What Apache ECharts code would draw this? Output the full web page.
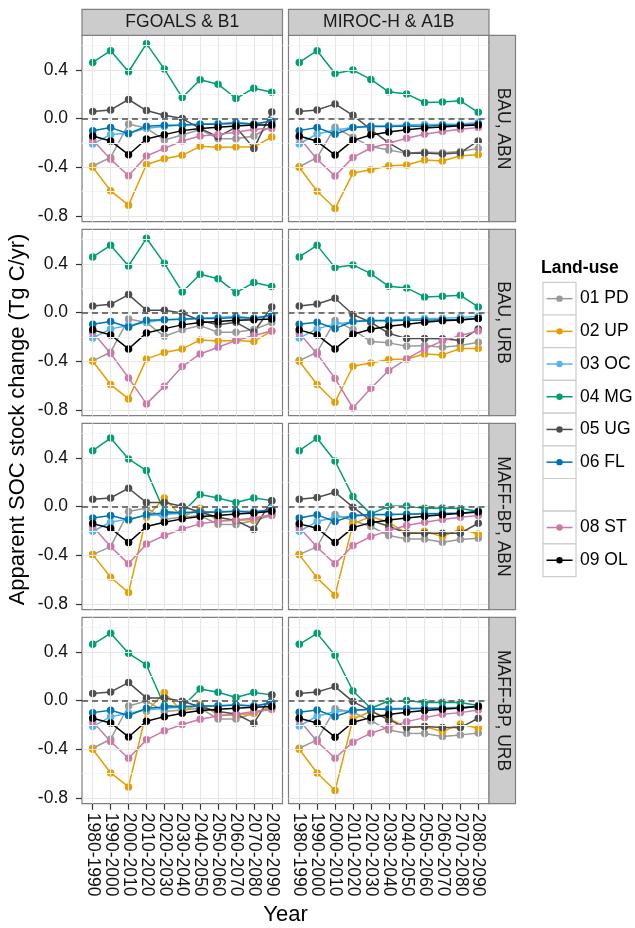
<!DOCTYPE html>
<html>
<head>
<meta charset="utf-8">
<script src="https://cdn.jsdelivr.net/npm/echarts@6/dist/echarts.min.js"></script>
<style>
html,body{margin:0;padding:0;background:#fff;}
#chart{width:635px;height:928px;}
</style>
</head>
<body>
<div id="chart"></div>
<script>
// ---------- DATA ----------
const years = ['1980-1990','1990-2000','2000-2010','2010-2020','2020-2030','2030-2040','2040-2050','2050-2060','2060-2070','2070-2080','2080-2090'];
const modelLabels = ['FGOALS & B1', 'MIROC-H & A1B'];
const scenarioLabels = ['BAU, ABN', 'BAU, URB', 'MAFF-BP, ABN', 'MAFF-BP, URB'];
const landUseNames = ['01 PD','02 UP','03 OC','04 MG','05 UG','06 FL','','08 ST','09 OL'];
const yTicks = [-0.8, -0.4, 0.0, 0.4];
const yMinorTicks = [-0.6, -0.2, 0.2, 0.6];

// Each array: 8 panels in order (row-major): FGOALS/BAU-ABN, MIROC/BAU-ABN, FGOALS/BAU-URB, MIROC/BAU-URB,
// FGOALS/MAFF-ABN, MIROC/MAFF-ABN, FGOALS/MAFF-URB, MIROC/MAFF-URB
const PD = [
  [-0.39,-0.32,-0.044,-0.08,-0.176,-0.135,-0.09,-0.165,-0.165,-0.143,-0.06],
  [-0.396,-0.32,-0.071,-0.154,-0.23,-0.258,-0.286,-0.275,-0.28,-0.27,-0.245],
  [-0.397,-0.326,-0.052,-0.082,-0.195,-0.142,-0.107,-0.162,-0.162,-0.14,-0.082],
  [-0.395,-0.326,-0.066,-0.14,-0.238,-0.249,-0.277,-0.271,-0.285,-0.271,-0.244],
  [-0.395,-0.329,-0.041,-0.011,-0.104,-0.088,-0.074,-0.145,-0.148,-0.115,-0.074],
  [-0.395,-0.329,-0.066,-0.115,-0.164,-0.238,-0.266,-0.266,-0.293,-0.271,-0.26],
  [-0.392,-0.318,-0.044,-0.003,-0.09,-0.077,-0.063,-0.151,-0.151,-0.104,-0.049],
  [-0.392,-0.323,-0.068,-0.096,-0.167,-0.241,-0.268,-0.271,-0.296,-0.282,-0.266]
];
const UP = [
  [-0.40,-0.594,-0.712,-0.377,-0.33,-0.302,-0.228,-0.236,-0.234,-0.234,-0.151],
  [-0.40,-0.597,-0.74,-0.448,-0.42,-0.388,-0.382,-0.341,-0.349,-0.305,-0.297],
  [-0.40,-0.592,-0.71,-0.381,-0.329,-0.299,-0.225,-0.233,-0.23,-0.238,-0.151],
  [-0.40,-0.592,-0.737,-0.441,-0.414,-0.386,-0.381,-0.34,-0.348,-0.296,-0.296],
  [-0.395,-0.581,-0.707,-0.088,0.071,-0.088,-0.014,-0.115,-0.115,-0.107,-0.06],
  [-0.395,-0.586,-0.729,-0.142,-0.082,-0.129,-0.219,-0.203,-0.247,-0.184,-0.225],
  [-0.40,-0.595,-0.71,-0.09,0.066,-0.09,-0.022,-0.118,-0.118,-0.104,-0.063],
  [-0.40,-0.595,-0.74,-0.151,-0.09,-0.145,-0.222,-0.214,-0.255,-0.192,-0.227]
];
const OC = [
  [-0.21,-0.13,-0.12,-0.08,-0.066,-0.052,-0.047,-0.041,-0.03,-0.044,-0.025],
  [-0.209,-0.126,-0.093,-0.074,-0.06,-0.058,-0.052,-0.049,-0.047,-0.044,-0.033],
  [-0.208,-0.134,-0.107,-0.08,-0.058,-0.052,-0.047,-0.041,-0.03,-0.047,-0.03],
  [-0.208,-0.134,-0.093,-0.077,-0.063,-0.06,-0.055,-0.049,-0.047,-0.041,-0.03],
  [-0.203,-0.129,-0.101,-0.074,-0.066,-0.055,-0.047,-0.041,-0.038,-0.038,-0.033],
  [-0.203,-0.123,-0.088,-0.079,-0.068,-0.066,-0.06,-0.058,-0.055,-0.052,-0.047],
  [-0.214,-0.132,-0.104,-0.077,-0.063,-0.055,-0.047,-0.041,-0.036,-0.041,-0.03],
  [-0.208,-0.129,-0.09,-0.079,-0.071,-0.066,-0.063,-0.06,-0.058,-0.055,-0.047]
];
const MG = [
  [0.462,0.558,0.385,0.616,0.407,0.173,0.319,0.283,0.165,0.25,0.217],
  [0.462,0.558,0.371,0.399,0.322,0.22,0.203,0.132,0.137,0.146,0.052],
  [0.458,0.553,0.384,0.611,0.405,0.17,0.315,0.279,0.164,0.247,0.214],
  [0.458,0.553,0.37,0.392,0.321,0.216,0.203,0.129,0.134,0.142,0.047],
  [0.46,0.564,0.392,0.296,-0.04,-0.05,0.099,0.071,0.033,0.071,0.049],
  [0.46,0.562,0.375,0.082,-0.06,0.003,0.005,-0.014,-0.011,-0.016,-0.038],
  [0.463,0.553,0.389,0.293,-0.04,-0.05,0.096,0.068,0.025,0.066,0.047],
  [0.463,0.553,0.373,0.079,-0.063,-0.003,0.0,-0.016,-0.014,-0.016,-0.041]
];
const UG = [
  [0.058,0.071,0.157,0.066,0.027,0.0,-0.08,-0.15,-0.07,-0.245,0.055],
  [0.058,0.071,0.121,0.027,-0.09,-0.2,-0.286,-0.283,-0.291,-0.28,-0.184],
  [0.055,0.068,0.148,0.019,0.019,-0.003,-0.066,-0.1,-0.08,-0.16,0.047],
  [0.055,0.071,0.118,-0.016,-0.08,-0.17,-0.214,-0.214,-0.216,-0.23,-0.134],
  [0.06,0.071,0.151,0.033,0.033,0.003,-0.047,-0.088,-0.115,-0.186,0.049],
  [0.06,0.074,0.118,-0.005,-0.115,-0.162,-0.219,-0.219,-0.219,-0.219,-0.137],
  [0.058,0.071,0.148,0.022,0.022,-0.005,-0.05,-0.09,-0.11,-0.186,0.047],
  [0.058,0.071,0.115,-0.008,-0.085,-0.159,-0.222,-0.214,-0.222,-0.222,-0.145]
];
const FL = [
  [-0.1,-0.074,-0.124,-0.063,-0.055,-0.052,-0.047,-0.047,-0.038,-0.044,-0.02],
  [-0.099,-0.074,-0.129,-0.074,-0.066,-0.066,-0.06,-0.063,-0.055,-0.055,-0.044],
  [-0.096,-0.074,-0.12,-0.063,-0.058,-0.055,-0.049,-0.049,-0.041,-0.047,-0.019],
  [-0.096,-0.079,-0.132,-0.071,-0.068,-0.068,-0.063,-0.063,-0.058,-0.058,-0.047],
  [-0.093,-0.074,-0.11,-0.066,-0.052,-0.049,-0.044,-0.047,-0.038,-0.049,-0.019],
  [-0.093,-0.068,-0.123,-0.074,-0.066,-0.066,-0.063,-0.058,-0.058,-0.055,-0.038],
  [-0.099,-0.079,-0.123,-0.063,-0.052,-0.049,-0.044,-0.044,-0.036,-0.047,-0.016],
  [-0.096,-0.077,-0.132,-0.079,-0.071,-0.071,-0.068,-0.066,-0.063,-0.063,-0.047]
];
const ST = [
  [-0.176,-0.335,-0.47,-0.308,-0.245,-0.184,-0.143,-0.13,-0.113,-0.088,-0.082],
  [-0.157,-0.335,-0.473,-0.319,-0.242,-0.203,-0.162,-0.129,-0.107,-0.088,-0.074],
  [-0.162,-0.337,-0.537,-0.751,-0.605,-0.444,-0.34,-0.285,-0.23,-0.189,-0.151],
  [-0.167,-0.34,-0.542,-0.784,-0.622,-0.477,-0.381,-0.299,-0.233,-0.189,-0.151],
  [-0.164,-0.329,-0.471,-0.307,-0.238,-0.184,-0.142,-0.12,-0.11,-0.093,-0.068],
  [-0.17,-0.334,-0.471,-0.32,-0.247,-0.197,-0.156,-0.129,-0.107,-0.088,-0.074],
  [-0.175,-0.337,-0.474,-0.323,-0.249,-0.197,-0.153,-0.126,-0.112,-0.09,-0.074],
  [-0.159,-0.337,-0.474,-0.342,-0.268,-0.219,-0.173,-0.14,-0.112,-0.099,-0.077]
];
const OL = [
  [-0.143,-0.184,-0.297,-0.168,-0.132,-0.099,-0.082,-0.071,-0.06,-0.052,-0.052],
  [-0.143,-0.187,-0.3,-0.179,-0.135,-0.11,-0.091,-0.077,-0.069,-0.058,-0.052],
  [-0.142,-0.184,-0.299,-0.167,-0.132,-0.101,-0.082,-0.074,-0.063,-0.058,-0.052],
  [-0.142,-0.184,-0.299,-0.178,-0.137,-0.112,-0.096,-0.079,-0.068,-0.06,-0.049],
  [-0.14,-0.178,-0.296,-0.164,-0.129,-0.101,-0.082,-0.074,-0.06,-0.052,-0.038],
  [-0.142,-0.178,-0.296,-0.173,-0.132,-0.11,-0.093,-0.079,-0.068,-0.055,-0.044],
  [-0.145,-0.184,-0.299,-0.17,-0.132,-0.104,-0.082,-0.071,-0.063,-0.055,-0.049],
  [-0.145,-0.184,-0.301,-0.178,-0.14,-0.115,-0.096,-0.082,-0.071,-0.06,-0.049]
];

// ---------- STYLE / LAYOUT ----------
const seriesList = [
  {name:'01 PD', data: PD, color:'#999999'},
  {name:'02 UP', data: UP, color:'#E69F00'},
  {name:'03 OC', data: OC, color:'#56B4E9'},
  {name:'04 MG', data: MG, color:'#009E73'},
  {name:'05 UG', data: UG, color:'#4D4D4D'},
  {name:'06 FL', data: FL, color:'#0072B2'},
  {name:'08 ST', data: ST, color:'#CC79A7'},
  {name:'09 OL', data: OL, color:'#000000'}
];
const legendColors = ['#999999','#E69F00','#56B4E9','#009E73','#4D4D4D','#0072B2',null,'#CC79A7','#000000'];

const FONT = '"Liberation Sans", Arial, Helvetica, sans-serif';
const SMALL = 17.5;
const BIG = 22;
const colLeft = [82, 288.5];
const panelW = 200.5;
const panelH = 186.4;
const rowTop0 = 35.3;
const rowStep = 194;
const Y_MIN = -0.848, Y_MAX = 0.685;
const xIdx = years.map((_, i) => i);

const grids = [], xAxes = [], yAxes = [], series = [], graphics = [];

for (let p = 0; p < 8; p++) {
  const row = Math.floor(p / 2), col = p % 2;
  const top = rowTop0 + row * rowStep;
  grids.push({left: colLeft[col], top: top, width: panelW, height: panelH,
    show: true, borderColor: '#7f7f7f', borderWidth: 1.2, backgroundColor: '#ffffff', containLabel: false});
  const bottomRow = row === 3;
  xAxes.push({
    type: 'value', gridIndex: p, min: -0.6, max: years.length - 1 + 0.6, position: 'bottom',
    axisLine: {show: false, onZero: false},
    splitLine: {show: false},
    axisTick: {show: bottomRow, customValues: xIdx, length: 6, lineStyle: {color: '#333', width: 1.2}},
    axisLabel: {show: bottomRow, customValues: xIdx, rotate: -90, margin: 9,
      formatter: v => years[Math.round(v)] || '', color: '#111', fontSize: SMALL, fontFamily: FONT}
  });
  yAxes.push({
    type: 'value', gridIndex: p, min: Y_MIN, max: Y_MAX, position: 'left',
    axisLine: {show: false, onZero: false},
    splitLine: {show: false},
    axisTick: {show: col === 0, customValues: yTicks, length: 6, lineStyle: {color: '#333', width: 1.2}},
    axisLabel: {show: col === 0, customValues: yTicks, margin: 14,
      formatter: v => v.toFixed(1), color: '#111', fontSize: SMALL, fontFamily: FONT}
  });
  // grid lines + dashed zero line
  const ml = [];
  yMinorTicks.forEach(v => ml.push({yAxis: v, lineStyle: {color: '#f5f5f5', width: 1, type: 'solid'}}));
  yTicks.forEach(v => ml.push({yAxis: v, lineStyle: {color: '#e6e6e6', width: 1.1, type: 'solid'}}));
  xIdx.forEach(v => ml.push({xAxis: v, lineStyle: {color: '#e6e6e6', width: 1.1, type: 'solid'}}));
  ml.push({yAxis: 0, lineStyle: {color: '#4d4d4d', width: 1.6, type: [6, 4]}});
  series.push({
    type: 'line', xAxisIndex: p, yAxisIndex: p, data: [], silent: true, z: 1,
    markLine: {silent: true, symbol: 'none', label: {show: false}, animation: false, data: ml}
  });
  seriesList.forEach(s => {
    series.push({
      name: s.name, type: 'line', xAxisIndex: p, yAxisIndex: p, z: 3,
      data: s.data[p].map((v, i) => [i, v]),
      symbol: 'circle', symbolSize: 7.5, showSymbol: true,
      lineStyle: {color: s.color, width: 1.5},
      itemStyle: {color: s.color},
      emphasis: {disabled: true}, animation: false
    });
  });
}

// Top strips
modelLabels.forEach((lab, c) => {
  graphics.push({type: 'rect', shape: {x: colLeft[c], y: 9.3, width: panelW, height: 26},
    style: {fill: '#cccccc', stroke: '#7f7f7f', lineWidth: 1.2}, z: 10});
  graphics.push({type: 'text', x: colLeft[c] + panelW / 2, y: 22.5, z: 11,
    style: {text: lab, fill: '#1a1a1a', font: SMALL + 'px ' + FONT, textAlign: 'center', textVerticalAlign: 'middle'}});
});
// Right strips
scenarioLabels.forEach((lab, r) => {
  const top = rowTop0 + r * rowStep;
  const x0 = colLeft[1] + panelW;
  graphics.push({type: 'rect', shape: {x: x0, y: top, width: 26.5, height: panelH},
    style: {fill: '#cccccc', stroke: '#7f7f7f', lineWidth: 1.2}, z: 10});
  graphics.push({type: 'text', x: x0 + 13.5, y: top + panelH / 2, rotation: -Math.PI / 2, z: 11,
    style: {text: lab, fill: '#1a1a1a', font: SMALL + 'px ' + FONT, textAlign: 'center', textVerticalAlign: 'middle'}});
});
// Axis titles
graphics.push({type: 'text', x: 285.5, y: 915, z: 11,
  style: {text: 'Year', fill: '#000', font: BIG + 'px ' + FONT, textAlign: 'center', textVerticalAlign: 'middle'}});
graphics.push({type: 'text', x: 18, y: 419.5, rotation: Math.PI / 2, z: 11,
  style: {text: 'Apparent SOC stock change (Tg C/yr)', fill: '#000', font: BIG + 'px ' + FONT, textAlign: 'center', textVerticalAlign: 'middle'}});
// Legend
graphics.push({type: 'text', x: 541, y: 268, z: 11,
  style: {text: 'Land-use', fill: '#000', font: 'bold ' + SMALL + 'px ' + FONT, textAlign: 'left', textVerticalAlign: 'middle'}});
const keyX = 543, keyTop = 282.3, keyH = 32.7, keyW = 33;
landUseNames.forEach((nm, k) => {
  const y0 = keyTop + k * keyH;
  graphics.push({type: 'rect', shape: {x: keyX, y: y0, width: keyW, height: keyH},
    style: {fill: '#ffffff', stroke: '#cccccc', lineWidth: 1.2}, z: 10});
  const c = legendColors[k];
  if (c) {
    const cy = y0 + keyH / 2;
    graphics.push({type: 'line', shape: {x1: keyX + 3.5, y1: cy, x2: keyX + keyW - 3.5, y2: cy},
      style: {stroke: c, lineWidth: 1.5}, z: 11});
    graphics.push({type: 'circle', shape: {cx: keyX + keyW / 2, cy: cy, r: 3.2},
      style: {fill: c}, z: 12});
    graphics.push({type: 'text', x: 580, y: cy, z: 11,
      style: {text: nm, fill: '#000', font: SMALL + 'px ' + FONT, textAlign: 'left', textVerticalAlign: 'middle'}});
  }
});

const chart = echarts.init(document.getElementById('chart'), null, {renderer: 'canvas', width: 635, height: 928});
chart.setOption({
  animation: false,
  backgroundColor: '#ffffff',
  grid: grids,
  xAxis: xAxes,
  yAxis: yAxes,
  series: series,
  graphic: graphics
});
</script>
</body>
</html>
